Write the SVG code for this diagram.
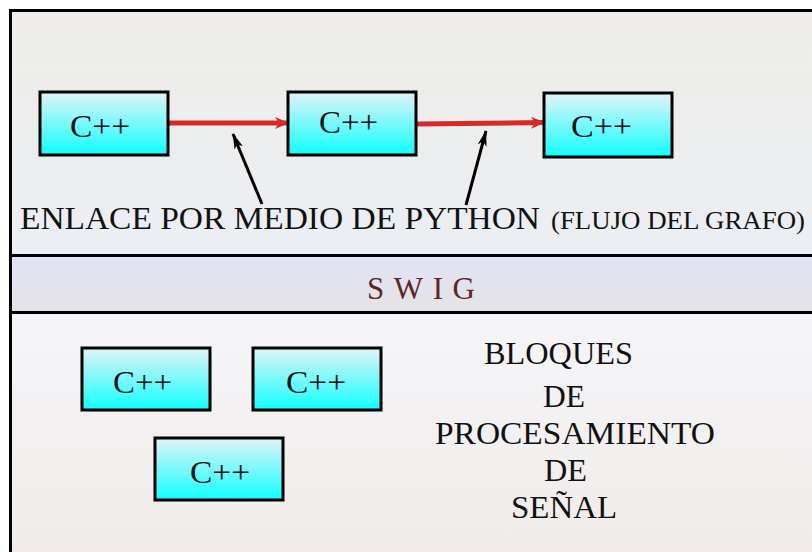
<svg xmlns="http://www.w3.org/2000/svg" width="812" height="552" viewBox="0 0 812 552">
<defs>
<linearGradient id="gTop" x1="0" y1="0" x2="0" y2="1"><stop offset="0" stop-color="#eeede8"/><stop offset="1" stop-color="#ebeef4"/></linearGradient>
<linearGradient id="gMid" x1="0" y1="0" x2="0" y2="1"><stop offset="0" stop-color="#e1e3f5"/><stop offset="1" stop-color="#e3e3e6"/></linearGradient>
<linearGradient id="gBot" x1="0" y1="0" x2="0" y2="1"><stop offset="0" stop-color="#f5f5f9"/><stop offset="1" stop-color="#f0ebe8"/></linearGradient>
<linearGradient id="gBox" x1="0" y1="0" x2="0" y2="1"><stop offset="0" stop-color="#e2f3f7"/><stop offset="1" stop-color="#10ffff"/></linearGradient>
<marker id="redHead" viewBox="0 0 14 12" refX="13" refY="6" markerWidth="14" markerHeight="12" markerUnits="userSpaceOnUse" orient="auto">
<path d="M0,0 L14,6 L0,12 L4,6 Z" fill="#d9282a"/>
</marker>
<marker id="blkHead" viewBox="0 0 16 10" refX="15" refY="5" markerWidth="16" markerHeight="10" markerUnits="userSpaceOnUse" orient="auto">
<path d="M0,0.5 L16,5 L0,9.5 L4,5 Z" fill="#000"/>
</marker>
</defs>
<style>
.box{fill:url(#gBox);stroke:#000;stroke-width:3}
.cpp{font-family:"Liberation Serif",serif;font-size:32px;fill:#111;text-anchor:middle}
.lbl{font-family:"Liberation Serif",serif;fill:#111}
.red{stroke:#d9282a;stroke-width:5;fill:none}
.blk{stroke:#000;stroke-width:3;fill:none}
</style>
<g id="frame">
<rect x="10" y="10" width="812" height="245" fill="url(#gTop)"/>
<rect x="10" y="255" width="812" height="57" fill="url(#gMid)"/>
<rect x="10" y="312" width="812" height="250" fill="url(#gBot)"/>
<path d="M10.5,562 V10.5 H822" fill="none" stroke="#000" stroke-width="3"/>
<line x1="10" y1="255.5" x2="822" y2="255.5" stroke="#000" stroke-width="3"/>
<line x1="10" y1="312.5" x2="822" y2="312.5" stroke="#000" stroke-width="3"/>
</g>
<g id="connectors">
<line class="red" x1="168" y1="123" x2="288" y2="123" marker-end="url(#redHead)"/>
<line class="red" x1="416" y1="124" x2="544" y2="122.5" marker-end="url(#redHead)"/>
<line class="blk" x1="262" y1="204" x2="233" y2="134" marker-end="url(#blkHead)"/>
<line class="blk" x1="466" y1="205" x2="486" y2="131" marker-end="url(#blkHead)"/>
</g>
<g id="node1"><rect class="box" x="40" y="92" width="128" height="63"/><text class="cpp" x="100" y="137" textLength="60" lengthAdjust="spacingAndGlyphs">C++</text></g>
<g id="node2"><rect class="box" x="288" y="92" width="128" height="63"/><text class="cpp" x="348.5" y="133" textLength="59" lengthAdjust="spacingAndGlyphs">C++</text></g>
<g id="node3"><rect class="box" x="544" y="93" width="128" height="64"/><text class="cpp" x="601.5" y="137" textLength="61" lengthAdjust="spacingAndGlyphs">C++</text></g>
<g id="node4"><rect class="box" x="82" y="348" width="128" height="62"/><text class="cpp" x="142.5" y="393" textLength="59" lengthAdjust="spacingAndGlyphs">C++</text></g>
<g id="node5"><rect class="box" x="253" y="348" width="128" height="62"/><text class="cpp" x="316" y="393" textLength="60" lengthAdjust="spacingAndGlyphs">C++</text></g>
<g id="node6"><rect class="box" x="155" y="438" width="128" height="62"/><text class="cpp" x="220" y="483" textLength="60" lengthAdjust="spacingAndGlyphs">C++</text></g>
<g id="labels">
<text class="lbl" x="20" y="229" font-size="32" textLength="520" lengthAdjust="spacingAndGlyphs">ENLACE POR MEDIO DE PYTHON</text>
<text class="lbl" x="551" y="229" font-size="25" textLength="254" lengthAdjust="spacingAndGlyphs">(FLUJO DEL GRAFO)</text>
<text x="367" y="299" font-family="Liberation Serif,serif" font-size="31" fill="#5a2626" textLength="108" lengthAdjust="spacing">SWIG</text>
<text class="lbl" x="484" y="364" font-size="31" textLength="149" lengthAdjust="spacingAndGlyphs">BLOQUES</text>
<text class="lbl" x="543" y="407" font-size="31" textLength="42" lengthAdjust="spacingAndGlyphs">DE</text>
<text class="lbl" x="435" y="444" font-size="31" textLength="280" lengthAdjust="spacingAndGlyphs">PROCESAMIENTO</text>
<text class="lbl" x="544" y="481" font-size="31" textLength="43" lengthAdjust="spacingAndGlyphs">DE</text>
<text class="lbl" x="511" y="518" font-size="31" textLength="106" lengthAdjust="spacingAndGlyphs">SEÑAL</text>
</g>
</svg>
